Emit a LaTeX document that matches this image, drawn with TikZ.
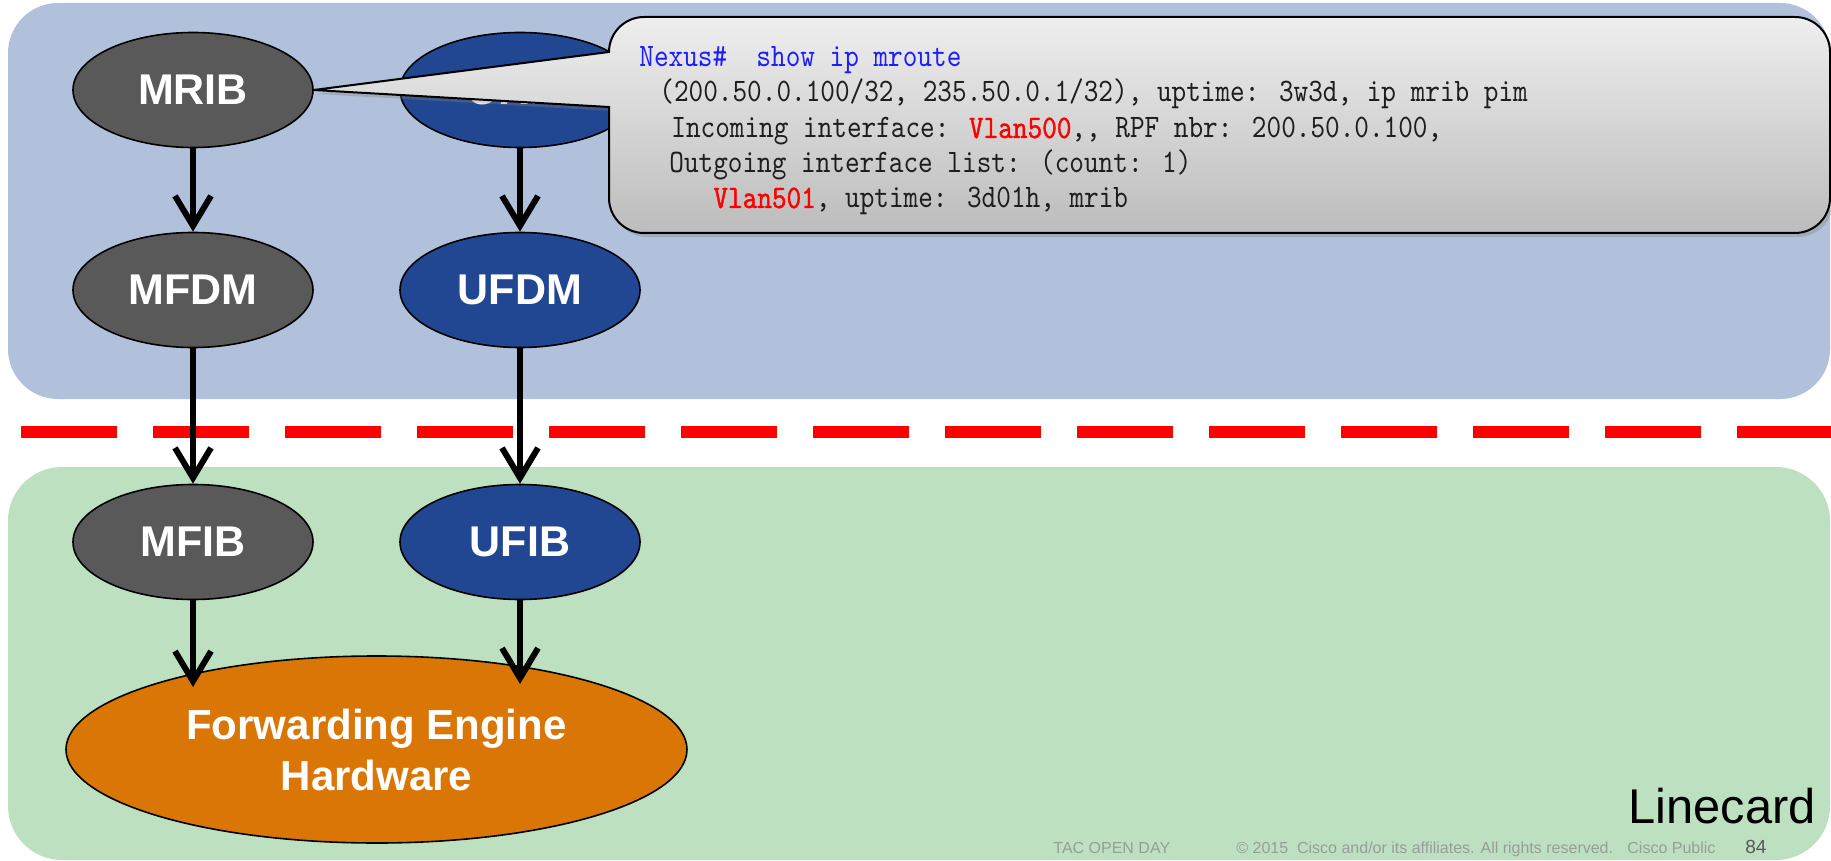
\documentclass[tikz,border=0pt]{standalone}
\usepackage{fontspec}
\setmainfont{Liberation Sans}
\newfontfamily\cmdfont{lmmono10-regular.otf}[FakeStretch=0.85]
\newfontfamily\cmdbold{lmmono10-regular.otf}[FakeStretch=0.85,FakeBold=1.2]
\newfontfamily\footfont{Liberation Sans}
\usetikzlibrary{arrows.meta,shapes.geometric,shadows}
\definecolor{panelblue}{RGB}{177,193,219}
\definecolor{panelgreen}{RGB}{189,224,193}
\definecolor{nodegray}{RGB}{89,89,89}
\definecolor{nodeblue}{RGB}{33,71,146}
\definecolor{nodeorange}{RGB}{218,118,5}
\definecolor{calltop}{RGB}{238,238,238}
\definecolor{callbot}{RGB}{188,188,188}
\definecolor{cmdblue}{RGB}{30,30,250}
\definecolor{cmdred}{RGB}{255,0,0}
\definecolor{cmdtext}{RGB}{30,30,30}
\definecolor{footgray}{RGB}{150,158,152}
\definecolor{pagegray}{RGB}{90,90,90}
\definecolor{dashred}{RGB}{255,0,0}
\tikzset{
  oval/.style={ellipse, draw=black, line width=0.8pt, minimum width=120pt,
    minimum height=57.5pt, inner sep=0pt, text=white,
    font=\fontsize{21.5}{24}\selectfont\bfseries},
  graynode/.style={oval, fill=nodegray},
  bluenode/.style={oval, fill=nodeblue},
  flow/.style={line width=3pt, -{Straight Barb[length=15pt,width=18pt]}},
  cmdline/.style={anchor=base west, inner sep=0pt, text=cmdtext,
    font=\cmdfont\fontsize{16.4}{18}\selectfont},
  foot/.style={anchor=base west, inner sep=0pt, text=footgray,
    font=\footfont\fontsize{8}{9}\selectfont},
}
\begin{document}
\begin{tikzpicture}[x=0.5pt,y=-0.5pt]
\useasboundingbox (0,0) rectangle (1831,861);
\fill[white] (0,0) rectangle (1831,861);
% panels
\fill[panelblue, rounded corners=25pt] (8,3) rectangle (1830,399);
\fill[panelgreen, rounded corners=27pt] (8,467) rectangle (1830,860);
% separator
\coordinate (dashL) at (21,432);
\coordinate (dashR) at (1831,432);
\draw[dashred, line width=6pt, dash pattern=on 48pt off 18pt] (dashL) -- (dashR);
% nodes
\node[graynode] (mrib) at (193,90) {MRIB};
\node[bluenode] (urib) at (520,90) {URIB};
\node[graynode] (mfdm) at (193,290) {MFDM};
\node[bluenode] (ufdm) at (520,290) {UFDM};
\node[graynode] (mfib) at (193,542) {MFIB};
\node[bluenode] (ufib) at (520,542) {UFIB};
\node[ellipse, draw=black, line width=0.8pt, fill=nodeorange, text=white,
  minimum width=310.5pt, minimum height=93.5pt, inner sep=0pt, align=center,
  font=\fontsize{21}{25.5}\selectfont\bfseries] (fe) at (376.5,749.5)
  {Forwarding Engine\\Hardware};
\coordinate (mfeIn) at (193,687);
\coordinate (ufeIn) at (520,684);
% arrows
\draw[flow] (mrib) -- (mfdm);
\draw[flow] (urib) -- (ufdm);
\draw[flow] (mfdm) -- (mfib);
\draw[flow] (ufdm) -- (ufib);
\draw[flow] (mfib) -- (mfeIn);
\draw[flow] (ufib) -- (ufeIn);
% callout
\path[draw=black, line width=1pt, top color=calltop, bottom color=callbot,
  drop shadow={opacity=0.35, shadow xshift=1.5pt, shadow yshift=-2pt}]
  (mrib.east) -- (609,52)
  .. controls (609,32.7) and (624.7,17) .. (644,17)
  -- (1795,17) .. controls (1814.3,17) and (1830,32.7) .. (1830,52)
  -- (1830,198) .. controls (1830,217.3) and (1814.3,233) .. (1795,233)
  -- (644,233) .. controls (624.7,233) and (609,217.3) .. (609,198)
  -- (609,107) -- cycle;
\node[cmdline, text=cmdblue] (c1) at (639,67) {Nexus\#\ \ show ip mroute};
\node[cmdline] (c2) at (659,102) {(200.50.0.100/32, 235.50.0.1/32), uptime: 3w3d, ip mrib pim};
\node[cmdline] (c3) at (671,138) {Incoming interface: {\cmdbold\color{cmdred}Vlan500},, RPF nbr: 200.50.0.100,};
\node[cmdline] (c4) at (669,173) {Outgoing interface list: (count: 1)};
\node[cmdline] (c5) at (713,208) {{\cmdbold\color{cmdred}Vlan501}, uptime: 3d01h, mrib};
% footer
\node[anchor=base west, inner sep=0pt, text=black,
  font=\fontsize{24.4}{26}\selectfont] (lc) at (1628,823) {Linecard};
\node[foot] (tac) at (1053,853) {TAC OPEN DAY};
\node[foot] (copy) at (1236,853) {\textcopyright{} 2015\ \ Cisco and/or its affiliates. All rights reserved.};
\node[foot] (pub) at (1627,853) {Cisco Public};
\node[anchor=base west, inner sep=0pt, text=pagegray,
  font=\footfont\fontsize{9.5}{10}\selectfont] (pg) at (1745,853) {84};
\end{tikzpicture}
\end{document}
